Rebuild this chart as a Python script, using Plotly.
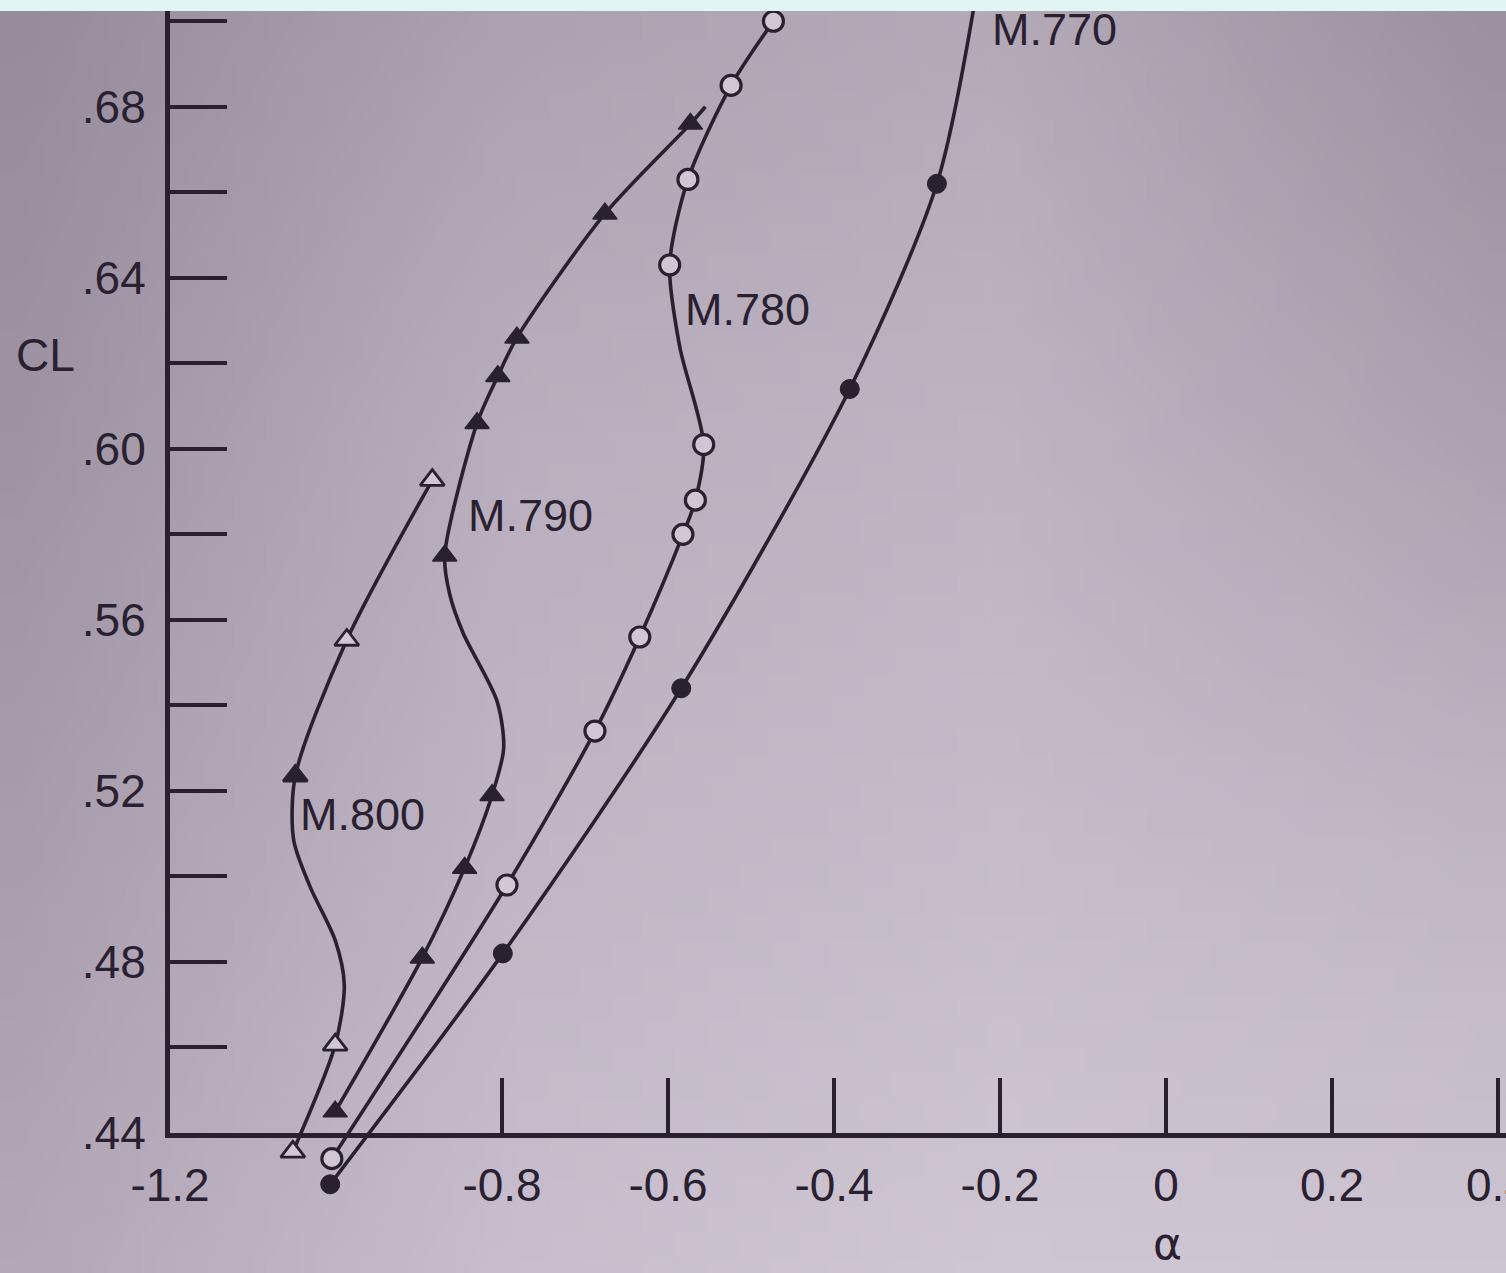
import base64
import struct
import zlib

import numpy as np
import plotly.graph_objects as go

# ---------------- data (alpha in deg, CL) ----------------
# M.770 : filled circles
m770_alpha = [-1.007, -0.799, -0.584, -0.381, -0.276]
m770_cl = [0.428, 0.482, 0.544, 0.614, 0.662]
m770_curve_alpha = [-1.007, -0.799, -0.584, -0.381, -0.276, -0.230]
m770_curve_cl = [0.428, 0.482, 0.544, 0.614, 0.662, 0.705]

# M.780 : open circles
m780_alpha = [-1.005, -0.794, -0.688, -0.634, -0.582, -0.567, -0.557, -0.598, -0.576, -0.524, -0.473]
m780_cl = [0.434, 0.498, 0.534, 0.556, 0.580, 0.588, 0.601, 0.643, 0.663, 0.685, 0.700]
m780_curve_alpha = [-1.005, -0.794, -0.688, -0.634, -0.582, -0.567, -0.557, -0.586, -0.598, -0.576, -0.524, -0.473]
m780_curve_cl = [0.434, 0.498, 0.534, 0.556, 0.580, 0.588, 0.601, 0.624, 0.643, 0.663, 0.685, 0.700]

# M.790 : filled triangles
m790_alpha = [-1.001, -0.896, -0.845, -0.812, -0.869, -0.830, -0.805, -0.782, -0.676, -0.573]
m790_cl = [0.445, 0.481, 0.502, 0.519, 0.575, 0.606, 0.617, 0.626, 0.655, 0.676]
m790_curve_alpha = [-1.001, -0.896, -0.845, -0.812, -0.798, -0.806, -0.847, -0.863, -0.869,
                    -0.830, -0.805, -0.782, -0.676, -0.573, -0.555]
m790_curve_cl = [0.445, 0.481, 0.502, 0.519, 0.530, 0.541, 0.557, 0.566, 0.575,
                 0.606, 0.617, 0.626, 0.655, 0.676, 0.680]

# M.800 : open triangles (one filled)
m800_alpha = [-1.052, -1.001, -1.049, -0.987, -0.884]
m800_cl = [0.4356, 0.4606, 0.5235, 0.5553, 0.5927]
m800_filled = [False, False, True, False, False]
m800_curve_alpha = [-1.052, -1.001, -0.990, -1.001, -1.031, -1.051, -1.049, -0.987, -0.884]
m800_curve_cl = [0.4356, 0.4606, 0.4746, 0.4851, 0.4975, 0.5085, 0.5235, 0.5553, 0.5927]

# curve labels
label_text = ["M.770", "M.780", "M.790", "M.800"]
label_alpha = [-0.212, -0.582, -0.843, -1.046]
label_cl = [0.698, 0.6325, 0.5845, 0.5144]

# axis ticks
x_tickvals = [-1.2, -0.8, -0.6, -0.4, -0.2, 0.0, 0.2, 0.4]
x_ticktext = ["-1.2", "-0.8", "-0.6", "-0.4", "-0.2", "0", "0.2", "0.4"]
y_tickvals = [0.44, 0.46, 0.48, 0.50, 0.52, 0.54, 0.56, 0.58, 0.60, 0.62, 0.64, 0.66, 0.68, 0.70]
y_ticktext = [".44", "", ".48", "", ".52", "", ".56", "", ".60", "", ".64", "", ".68", ""]

# ---------------- layout geometry ----------------
W, H = 1506, 1273
ML, MR, MT, MB = 170, 0, 11, 55
PX_PER_ALPHA = 830.0
PX_PER_CL = 4276.0
AXIS_PY = 1133  # pixel row of CL = .44
plot_w = W - ML - MR
plot_h = H - MT - MB
x_range = [-1.2, -1.2 + plot_w / PX_PER_ALPHA]
y_top = 0.44 + (AXIS_PY - MT) / PX_PER_CL
y_bot = 0.44 - (H - MB - AXIS_PY) / PX_PER_CL
f = (H - MB - AXIS_PY) / plot_h

INK = "#2a2130"
BG = "#b7acbd"
HOLLOW = "#d0c6d4"
FONT = "Liberation Sans, Arial, sans-serif"
LW = 3.6


# ---------------- photo-paper shading (background image) ----------------
def png_data_uri(arr):
    h, w, _ = arr.shape
    raw = b"".join(b"\x00" + arr[i].tobytes() for i in range(h))

    def chunk(tag, data):
        return (struct.pack(">I", len(data)) + tag + data
                + struct.pack(">I", zlib.crc32(tag + data) & 0xFFFFFFFF))

    png = (b"\x89PNG\r\n\x1a\n"
           + chunk(b"IHDR", struct.pack(">IIBBBBB", w, h, 8, 2, 0, 0, 0))
           + chunk(b"IDAT", zlib.compress(raw))
           + chunk(b"IEND", b""))
    return "data:image/png;base64," + base64.b64encode(png).decode()


shade_grid = np.array([
    [(150, 140, 155), (172, 162, 177), (180, 170, 184), (155, 145, 160)],
    [(158, 148, 163), (185, 175, 190), (190, 180, 194), (172, 162, 177)],
    [(168, 158, 173), (192, 182, 197), (198, 188, 202), (192, 182, 196)],
    [(178, 168, 183), (200, 190, 205), (208, 199, 212), (206, 197, 210)],
], dtype=float)
gy = np.linspace(0, 3, 48)
gx = np.linspace(0, 3, 48)
tmp = np.stack([np.stack([np.interp(gx, np.arange(4), shade_grid[r, :, c]) for c in range(3)], -1)
                for r in range(4)])
img = np.stack([np.stack([np.interp(gy, np.arange(4), tmp[:, j, c]) for c in range(3)], -1)
                for j in range(len(gx))], 1)
bg_uri = png_data_uri(np.clip(img, 0, 255).astype(np.uint8))

fig = go.Figure()


def add_curve(ax, ay):
    fig.add_trace(go.Scatter(x=ax, y=ay, mode="lines",
                             line=dict(color=INK, width=LW, shape="spline", smoothing=0.8),
                             hoverinfo="skip", showlegend=False))


add_curve(m770_curve_alpha, m770_curve_cl)
add_curve(m780_curve_alpha, m780_curve_cl)
add_curve(m790_curve_alpha, m790_curve_cl)
add_curve(m800_curve_alpha, m800_curve_cl)

fig.add_trace(go.Scatter(x=m770_alpha, y=m770_cl, mode="markers",
                         marker=dict(symbol="circle", size=19, color=INK,
                                     line=dict(color=INK, width=1)), showlegend=False))
fig.add_trace(go.Scatter(x=m780_alpha, y=m780_cl, mode="markers",
                         marker=dict(symbol="circle", size=20, color=HOLLOW,
                                     line=dict(color=INK, width=3.2)), showlegend=False))
fig.add_trace(go.Scatter(x=m790_alpha, y=m790_cl, mode="markers",
                         marker=dict(symbol="triangle-up", size=21, color=INK,
                                     line=dict(color=INK, width=1.5)), showlegend=False))
fig.add_trace(go.Scatter(x=m800_alpha, y=m800_cl, mode="markers",
                         marker=dict(symbol="triangle-up", size=21,
                                     color=[INK if fl else HOLLOW for fl in m800_filled],
                                     line=dict(color=INK, width=2.8)), showlegend=False))

# empty trace for the display axes
fig.add_trace(go.Scatter(x=[], y=[], xaxis="x2", yaxis="y2", showlegend=False))

for t, ax, ay in zip(label_text, label_alpha, label_cl):
    fig.add_annotation(x=ax, y=ay, xref="x", yref="y", text=t, showarrow=False,
                       xanchor="left", yanchor="middle",
                       font=dict(family=FONT, size=45, color=INK))

# axis titles
fig.add_annotation(x=(45 - ML) / plot_w, y=(H - MB - 355) / plot_h, xref="paper", yref="paper",
                   text="CL", showarrow=False, xanchor="center", yanchor="middle",
                   font=dict(family=FONT, size=46, color=INK))
fig.add_annotation(x=(1167 - ML) / plot_w, y=(H - MB - 1243) / plot_h, xref="paper", yref="paper",
                   text="α", showarrow=False, xanchor="center", yanchor="middle",
                   font=dict(family="DejaVu Sans, sans-serif", size=44, color=INK))

# light band at top of the photo
fig.add_shape(type="rect", xref="paper", yref="paper",
              x0=-ML / plot_w, x1=1 + MR / plot_w, y0=1, y1=1 + (MT + 2) / plot_h,
              fillcolor="#e1f6f4", line=dict(width=0), layer="above")

fig.add_layout_image(source=bg_uri, xref="paper", yref="paper",
                     x=-ML / plot_w, y=1 + MT / plot_h, sizex=W / plot_w, sizey=H / plot_h,
                     xanchor="left", yanchor="top", sizing="stretch", layer="below")

fig.update_layout(
    width=W, height=H,
    margin=dict(l=ML, r=MR, t=MT, b=MB, pad=0, autoexpand=False),
    paper_bgcolor=BG, plot_bgcolor="rgba(0,0,0,0)",
    showlegend=False,
    xaxis=dict(domain=[0, 1], range=x_range, visible=False, fixedrange=True),
    yaxis=dict(domain=[0, 1], range=[y_bot, y_top], visible=False, fixedrange=True),
    xaxis2=dict(domain=[0, 1], range=x_range, anchor="y2",
                tickmode="array", tickvals=x_tickvals, ticktext=x_ticktext,
                ticks="inside", ticklen=55, tickwidth=4, tickcolor=INK,
                showline=True, linewidth=5, linecolor=INK,
                showgrid=False, zeroline=False, ticklabelstandoff=8,
                ticklabeloverflow="allow", automargin=False,
                tickfont=dict(family=FONT, size=46, color=INK)),
    yaxis2=dict(domain=[f, 1], range=[0.44, y_top], anchor="x2",
                tickmode="array", tickvals=y_tickvals, ticktext=y_ticktext,
                ticks="inside", ticklen=57, tickwidth=4, tickcolor=INK,
                showline=True, linewidth=5, linecolor=INK,
                showgrid=False, zeroline=False, ticklabelstandoff=10,
                ticklabeloverflow="allow", automargin=False,
                tickfont=dict(family=FONT, size=46, color=INK)),
)

fig.write_html("out.html")
